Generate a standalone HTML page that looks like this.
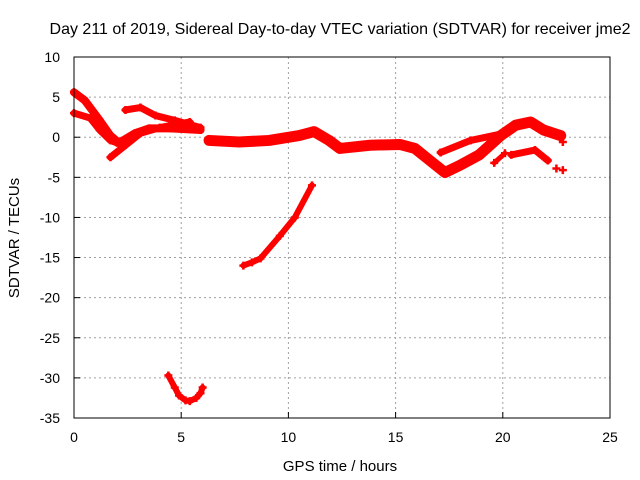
<!DOCTYPE html>
<html><head><meta charset="utf-8"><style>
body{margin:0;background:#fff}
svg{display:block;font-family:"Liberation Sans",sans-serif}
</style></head><body>
<svg id="chart" width="640" height="480">
<text x="340" y="34" font-size="16" text-anchor="middle">Day 211 of 2019, Sidereal Day-to-day VTEC variation (SDTVAR) for receiver jme2</text>
<text x="340" y="471" font-size="15" text-anchor="middle">GPS time / hours</text>
<text transform="translate(19,238) rotate(-90)" font-size="15" text-anchor="middle">SDTVAR / TECUs</text>
<g id="grid"></g><g id="ticks"></g><g id="marks"></g>
<rect x="74" y="57" width="536" height="361" fill="none" stroke="#000" stroke-width="1"/>
</svg>
<script>
const xTicks=[0,5,10,15,20,25];
const yTicks=[10,5,0,-5,-10,-15,-20,-25,-30,-35];
const trackA=[[0,5.6],[0.5,4.6],[1.2,2.1],[1.7,0.2],[2.1,-0.7],[2.85,0.5],[3.5,1.1],[4.5,1.1],[5.9,0.9]];
const trackB=[[0,3],[0.75,2.4],[1.2,0.9],[1.7,-0.4],[2,-0.7]];
const trackC=[[1.7,-2.5],[2.4,-1],[3.1,0.5],[4,1.2],[5.4,1.9]];
const trackD=[[2.4,3.4],[3.1,3.7],[3.8,2.7],[4.7,2.1],[5.9,1.2]];
const mainBand=[[6.3,-0.4],[7.7,-0.6],[9.1,-0.4],[10.5,0.2],[11.2,0.7],[11.9,-0.4],[12.4,-1.4],[13.8,-1],[15.2,-0.9],[15.9,-1.4],[16.6,-2.9],[17.3,-4.4],[18,-3.5],[18.9,-2.2],[19.9,0.2],[20.6,1.5],[21.3,1.9],[21.9,0.9],[22.7,0.2]];
const upperBranch=[[17.1,-1.9],[18.5,-0.4],[20.1,0.5]];
const shortBranch=[[19.6,-3.2],[20.1,-2]];
const lowerRight=[[20.4,-2.2],[21.5,-1.6],[22.1,-2.9]];
const isolated=[[22.5,-3.9],[22.8,-4.1],[22.8,-0.6]];
const rising=[[7.9,-16],[8.3,-15.6],[8.7,-15.1],[9.6,-12.3],[10.3,-10],[11.1,-6]];
const dip=[[4.4,-29.7],[4.7,-31.2],[4.9,-32.2],[5.2,-32.8],[5.4,-32.9],[5.7,-32.5],[5.9,-31.9],[6,-31.2]];
const NS="http://www.w3.org/2000/svg";
const X=v=>74+v*536/25, Y=v=>57+(10-v)*361/45;
const grid=document.getElementById('grid'),ticks=document.getElementById('ticks'),marks=document.getElementById('marks');
function mk(t,a,p){const e=document.createElementNS(NS,t);for(const k in a)e.setAttribute(k,a[k]);p.appendChild(e);return e;}
xTicks.forEach(v=>{
 if(v>0&&v<25){const g=mk('line',{x1:X(v),x2:X(v),y1:57,y2:418,stroke:'#a0a0a0','stroke-dasharray':'2,3'},grid);
 
 }
 const t=mk('text',{x:X(v),y:442,'font-size':14,'text-anchor':'middle'},ticks);t.textContent=v;
 
 
 mk('line',{x1:X(v),x2:X(v),y1:418,y2:412,stroke:'#000'},ticks);
});
yTicks.forEach(v=>{
 if(v<10&&v>-35){const g=mk('line',{x1:74,x2:610,y1:Y(v),y2:Y(v),stroke:'#a0a0a0','stroke-dasharray':'2,3'},grid);
 
 }
 const t=mk('text',{x:60,y:Y(v)+5,'font-size':14,'text-anchor':'end'},ticks);t.textContent=v;
 
 
 mk('line',{x1:74,x2:80,y1:Y(v),y2:Y(v),stroke:'#000'},ticks);
});
function track(arr,name,w){
 const g=mk('g',{},marks);
 
 
 if(arr.length>1)mk('polyline',{points:arr.map(p=>X(p[0])+','+Y(p[1])).join(' '),fill:'none',stroke:'#f00','stroke-width':w,'stroke-linejoin':'round','stroke-linecap':'round'},g);
 arr.forEach(p=>{const x=X(p[0]),y=Y(p[1]);
  mk('path',{d:`M${x-4},${y}h8M${x},${y-4}v8`,stroke:'#f00','stroke-width':2.5},g);});
}
track(trackA,'series-track-a',8);
track(trackB,'series-track-b',7);
track(trackC,'series-track-c',7);
track(trackD,'series-track-d',7);
track(mainBand,'series-main-band',11);
track(upperBranch,'series-upper-branch',7);
track(shortBranch,'series-short-branch',5);
track(lowerRight,'series-lower-right',7);
isolated.forEach(p=>track([p],'series-isolated-point',5));
track(rising,'series-rising-arc',6);
track(dip,'series-dip-arc',6);
</script>
</body></html>
